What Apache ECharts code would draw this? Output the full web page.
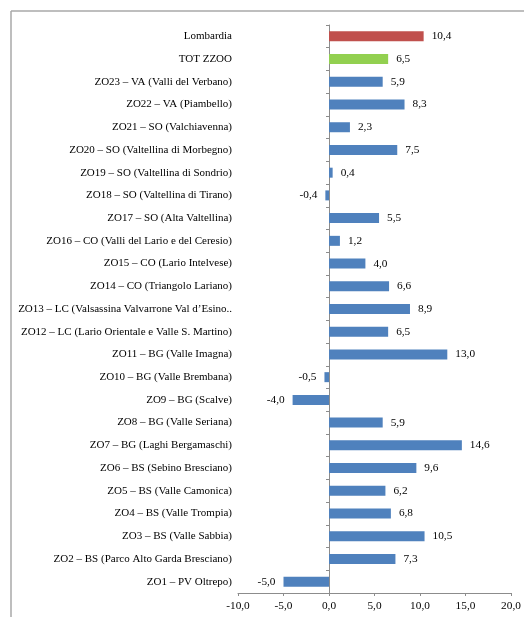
<!DOCTYPE html>
<html>
<head>
<meta charset="utf-8">
<script src="https://cdn.jsdelivr.net/npm/echarts@6/dist/echarts.min.js"></script>
<style>
  html, body { margin: 0; padding: 0; background: #fff; }
  #chart { width: 524px; height: 617px; }
</style>
</head>
<body>
<div id="chart"></div>
<script>
const categories = [
  'Lombardia',
  'TOT ZZOO',
  'ZO23 – VA (Valli del Verbano)',
  'ZO22 – VA (Piambello)',
  'ZO21 – SO (Valchiavenna)',
  'ZO20 – SO (Valtellina di Morbegno)',
  'ZO19 – SO (Valtellina di Sondrio)',
  'ZO18 – SO (Valtellina di Tirano)',
  'ZO17 – SO (Alta Valtellina)',
  'ZO16 – CO (Valli del Lario e del Ceresio)',
  'ZO15 – CO (Lario Intelvese)',
  'ZO14 – CO (Triangolo Lariano)',
  'ZO13 – LC (Valsassina Valvarrone Val d’Esino..',
  'ZO12 – LC (Lario Orientale e Valle S. Martino)',
  'ZO11 – BG (Valle Imagna)',
  'ZO10 – BG (Valle Brembana)',
  'ZO9 – BG (Scalve)',
  'ZO8 – BG (Valle Seriana)',
  'ZO7 – BG (Laghi Bergamaschi)',
  'ZO6 – BS (Sebino Bresciano)',
  'ZO5 – BS (Valle Camonica)',
  'ZO4 – BS (Valle Trompia)',
  'ZO3 – BS (Valle Sabbia)',
  'ZO2 – BS (Parco Alto Garda Bresciano)',
  'ZO1 – PV Oltrepo)'
]

const values = [10.4, 6.5, 5.9, 8.3, 2.3, 7.5, 0.4, -0.4, 5.5, 1.2, 4.0, 6.6, 8.9,
  6.5, 13.0, -0.5, -4.0, 5.9, 14.6, 9.6, 6.2, 6.8, 10.5, 7.3, -5.0]

const xTicks = [-10, -5, 0, 5, 10, 15, 20]

const font = '"Liberation Serif", "DejaVu Serif", serif'
const axisGray = '#8c8c8c'

function barColor(index) {
  if (index === 0) return '#c0504d'
  if (index === 1) return '#92d050'
  return '#4f81bd'
}

function formatNumber(value) {
  return value.toFixed(1).replace('.', ',')
}

const chart = echarts.init(document.getElementById('chart'))

chart.setOption({
  animation: false,
  textStyle: { fontFamily: font },
  grid: {
    left: 238,
    right: 13,
    top: 25,
    bottom: 24
  },
  xAxis: {
    type: 'value',
    min: xTicks[0],
    max: xTicks[xTicks.length - 1],
    interval: 5,
    splitLine: { show: false },
    axisLine: { show: true, lineStyle: { color: axisGray } },
    axisTick: { show: true, length: 3, lineStyle: { color: axisGray } },
    axisLabel: {
      color: '#000',
      fontSize: 11.3,
      fontFamily: font,
      margin: 8,
      formatter: formatNumber
    }
  },
  yAxis: [
    {
      type: 'category',
      data: categories,
      inverse: true,
      axisLine: { show: false, onZero: false },
      axisTick: { show: false },
      axisLabel: {
        color: '#000',
        fontSize: 11,
        fontFamily: font,
        margin: 6
      }
    },
    {
      type: 'category',
      data: categories,
      inverse: true,
      position: 'left',
      axisLine: { show: true, onZero: true, lineStyle: { color: axisGray } },
      axisTick: { show: true, length: 3, lineStyle: { color: axisGray } },
      axisLabel: { show: false }
    }
  ],
  graphic: [
    {
      type: 'line',
      shape: { x1: 11, y1: 11, x2: 524, y2: 11 },
      style: { stroke: '#a8a8a8', lineWidth: 1.5 }
    },
    {
      type: 'line',
      shape: { x1: 11, y1: 11, x2: 11, y2: 617 },
      style: { stroke: '#a8a8a8', lineWidth: 1.5 }
    }
  ],
  series: [
    {
      type: 'bar',
      yAxisIndex: 0,
      barWidth: 10,
      data: values.map((v, i) => ({
        value: v,
        itemStyle: { color: barColor(i) },
        label: { position: v < 0 ? 'left' : 'right' }
      })),
      label: {
        show: true,
        color: '#000',
        fontSize: 11.3,
        fontFamily: font,
        distance: 8,
        formatter: (p) => formatNumber(p.value)
      }
    }
  ]
})
</script>
</body>
</html>
